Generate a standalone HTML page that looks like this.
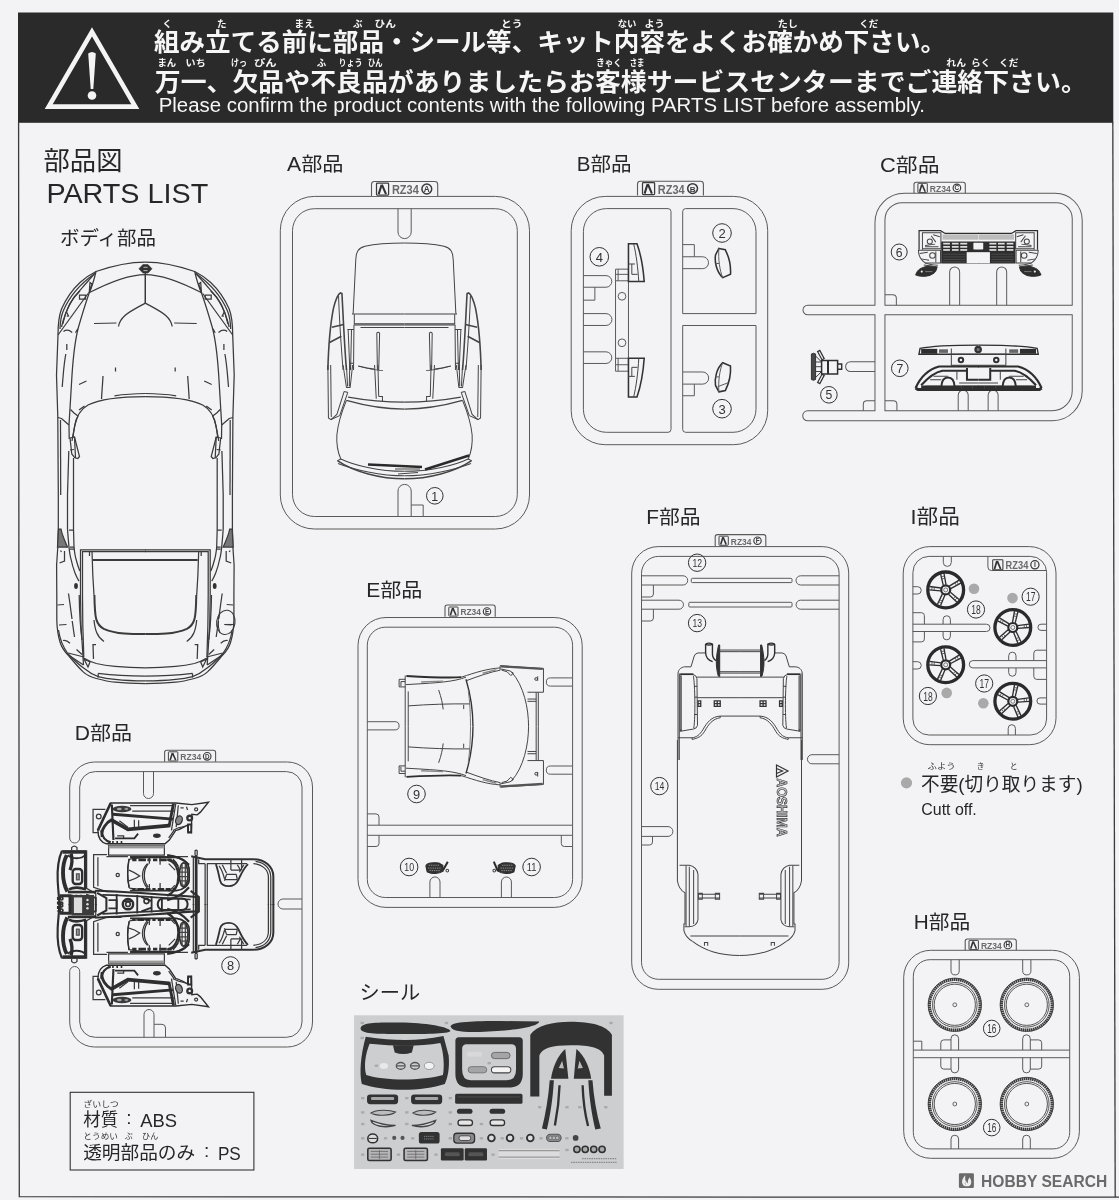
<!DOCTYPE html>
<html><head><meta charset="utf-8"><title>Parts List</title>
<style>
html,body{margin:0;padding:0;background:#f3f3f5;}
body{width:1119px;height:1200px;overflow:hidden;font-family:"Liberation Sans","Noto Sans CJK JP",sans-serif;}
svg{display:block;font-family:"Liberation Sans","Noto Sans CJK JP",sans-serif;}
</style></head><body>
<svg width="1119" height="1200" viewBox="0 0 1119 1200">
<defs><filter id="soft" x="0" y="0" width="1119" height="1200" filterUnits="userSpaceOnUse"><feGaussianBlur stdDeviation="0.42"/></filter></defs>
<rect width="1119" height="1200" fill="#f3f3f5"/>
<g filter="url(#soft)">
<rect x="18" y="12.5" width="1095.3" height="110.3" fill="#2b2b2b"/>
<path d="M18.6,122L19.3,1196.7L1119,1197.2" fill="none" stroke="#3a3a3a" stroke-width="1.3"/>
<path d="M1112.8,122L1115.2,1197" fill="none" stroke="#3a3a3a" stroke-width="1.3"/>
<path d="M92,31.8L135.3,106.6H48.7Z" fill="none" stroke="#f4f4f4" stroke-width="4.6" stroke-linejoin="miter"/>
<path d="M88.2,53.5Q92,50.5 95.8,53.5L93.3,89H90.7Z" fill="#f4f4f4"/><circle cx="92" cy="95.5" r="4.3" fill="#f4f4f4"/>
<text x="154" y="51" font-size="25" font-weight="bold" fill="#f6f6f6" textLength="792" lengthAdjust="spacingAndGlyphs">組み立てる前に部品・シール等、キット内容をよくお確かめ下さい。</text>
<text x="154.8" y="91" font-size="25" font-weight="bold" fill="#f6f6f6" textLength="932" lengthAdjust="spacingAndGlyphs">万一、欠品や不良品がありましたらお客様サービスセンターまでご連絡下さい。</text>
<g font-size="9.5" font-weight="bold" fill="#f6f6f6">
<text x="167.3" y="27.3" text-anchor="middle">く</text>
<text x="221.7" y="27.3" text-anchor="middle">た</text>
<text x="294.2" y="27.3" textLength="20" lengthAdjust="spacingAndGlyphs">まえ</text>
<text x="357.8" y="27.3" text-anchor="middle">ぶ</text>
<text x="374.6" y="27.3" textLength="21.4" lengthAdjust="spacingAndGlyphs">ひん</text>
<text x="501" y="27.3" textLength="21.5" lengthAdjust="spacingAndGlyphs">とう</text>
<text x="617.7" y="27.3" textLength="18.7" lengthAdjust="spacingAndGlyphs">ない</text>
<text x="644.5" y="27.3" textLength="20.1" lengthAdjust="spacingAndGlyphs">よう</text>
<text x="777.7" y="27.3" textLength="20.2" lengthAdjust="spacingAndGlyphs">たし</text>
<text x="859.3" y="27.3" textLength="19" lengthAdjust="spacingAndGlyphs">くだ</text>
<text x="157.4" y="66.3" textLength="18.8" lengthAdjust="spacingAndGlyphs">まん</text>
<text x="185.6" y="66.3" textLength="20.1" lengthAdjust="spacingAndGlyphs">いち</text>
<text x="231" y="66.3" textLength="16" lengthAdjust="spacingAndGlyphs">けっ</text>
<text x="254" y="66.3" textLength="22.7" lengthAdjust="spacingAndGlyphs">ぴん</text>
<text x="321.5" y="66.3" text-anchor="middle">ふ</text>
<text x="338.4" y="66.3" textLength="24.1" lengthAdjust="spacingAndGlyphs">りょう</text>
<text x="368" y="66.3" textLength="14.6" lengthAdjust="spacingAndGlyphs">ひん</text>
<text x="596.2" y="66.3" textLength="25.5" lengthAdjust="spacingAndGlyphs">きゃく</text>
<text x="629.7" y="66.3" textLength="14.8" lengthAdjust="spacingAndGlyphs">さま</text>
<text x="946.3" y="66.3" textLength="19.7" lengthAdjust="spacingAndGlyphs">れん</text>
<text x="971" y="66.3" textLength="19.5" lengthAdjust="spacingAndGlyphs">らく</text>
<text x="999" y="66.3" textLength="19.4" lengthAdjust="spacingAndGlyphs">くだ</text>
</g>
<text x="158.7" y="112.3" font-size="19.5" fill="#f6f6f6" textLength="766.3" lengthAdjust="spacingAndGlyphs">Please confirm the product contents with the following PARTS LIST before assembly.</text>
<text x="43.5" y="170.4" font-size="26" fill="#262626" textLength="79" lengthAdjust="spacingAndGlyphs">部品図</text>
<text x="46.4" y="202.8" font-size="27.6" fill="#262626" textLength="161.8" lengthAdjust="spacingAndGlyphs">PARTS LIST</text>
<text x="60" y="244.8" font-size="19.5" fill="#262626" textLength="96" lengthAdjust="spacingAndGlyphs">ボディ部品</text>
<g id="bodyL"><g transform="translate(40,255) scale(0.10000)" stroke-width="12.50" stroke="#3a3a3a" fill="none" ><path d="M180,800 C180,700 185,620 215,540 C260,440 330,340 400,275 C450,230 500,195 560,165 C700,115 880,70 1054,70"/><path d="M485,380 C600,320 850,195 1054,195"/><path d="M560,165 C540,250 515,330 490,385 C460,470 420,600 385,720 C350,850 330,1050 320,1200"/><path d="M552,180 C480,260 420,330 385,370 C330,430 280,520 255,590 C235,640 222,690 215,720"/><path d="M545,188 C430,270 300,400 232,560 C212,610 202,660 200,740"/><path d="M400,360 C330,420 260,530 228,690"/><path d="M480,385 L180,800"/><path d="M395,400 H455 V440 H395 Z"/><path d="M500,275 L520,290 L492,380 Z"/><path d="M265,570 L285,610 L268,612"/><path d="M180,800 C175,900 170,1050 165,1200"/><path d="M268,890 V950 M258,990 C245,1060 238,1130 232,1200"/><path d="M235,765 Q275,735 322,775"/><path d="M355,778 L378,738"/><path d="M1054,160 V481"/><path d="M1054,481 C1000,512 900,560 850,605 C810,640 790,680 785,715"/><path d="M540,685 L765,680"/><path d="M755,1125 V1165"/></g><g transform="translate(40,375) scale(0.10000)" stroke-width="12.50" stroke="#3a3a3a" fill="none" ><path d="M165,0 C170,150 175,300 178,420 L183,1200"/><path d="M205,450 L207,1200"/><path d="M232,0 L222,120"/><path d="M320,0 C310,150 300,350 290,500 L292,640"/><path d="M178,425 L215,435 L290,500"/><path d="M305,345 L340,380 L380,410"/><path d="M1054,215 C800,215 600,240 480,300 C400,345 360,420 345,520 C335,580 325,620 320,660"/><path d="M745,208 C850,192 950,186 1054,185"/><path d="M390,350 L445,310"/><path d="M380,410 C355,460 340,530 330,620"/><path d="M390,95 L465,60"/><path d="M630,10 L615,240"/><path d="M300,630 L345,620 L395,815 L378,835 L348,828 L318,790 Z"/><path d="M300,750 L340,745 M345,620 L355,830"/><path d="M288,760 L275,1200"/><path d="M335,830 V1200"/></g><g transform="translate(40,495) scale(0.10000)" stroke-width="12.50" stroke="#3a3a3a" fill="none" ><path d="M183,0 V340 L178,520 L166,700 L168,1000"/><path d="M185,340 L210,340 C220,400 250,460 275,520 L175,520 Z" fill="#777"/><path d="M275,0 V340 C280,420 285,470 290,520 C295,570 300,610 310,640 C320,690 335,740 350,780 C362,810 375,840 390,860"/><path d="M335,0 V340 L340,520 C345,570 350,610 360,640 C370,680 382,720 398,760"/><path d="M290,350 H335 M300,520 H342 M300,540 H345"/><path d="M405,1000 V548 H1057"/><path d="M425,1000 V565 H1057"/><path d="M520,560 L528,800 L540,1000"/><path d="M530,650 H1057" stroke-width="22"/><path d="M495,560 V610"/><path d="M245,560 V660 L195,680"/><path d="M205,555 L215,570"/><ellipse cx="360" cy="910" rx="19" ry="29" fill="#333" stroke="none"/><path d="M285,985 L300,1090"/></g><g transform="translate(40,595) scale(0.10000)" stroke-width="12.50" stroke="#3a3a3a" fill="none" ><path d="M168,0 L168,250 C170,350 185,420 200,470 C215,520 250,570 281,600 C330,660 380,720 432,769 C470,805 510,822 563,835 C620,850 680,865 750,872 C850,882 950,885 1054,885"/><path d="M185,350 C195,420 230,520 281,590 C330,640 390,700 450,741 C490,775 530,800 582,816 C640,832 700,840 750,844 C850,855 950,859 1054,859"/><path d="M432,628 C470,650 510,670 563,685 C620,698 690,708 750,713 C850,722 950,727 1054,728"/><path d="M582,784 C700,798 900,810 1054,810"/><path d="M582,784 V825"/><path d="M405,0 L410,300 L430,620 L435,700"/><path d="M425,0 L428,300 L438,620"/><path d="M392,0 C395,200 400,300 420,450"/><path d="M544,0 C546,120 550,200 563,244 C580,300 610,325 638,338 C700,365 780,380 844,385 C920,390 1000,390 1054,390" stroke-width="20"/><path d="M540,250 C550,350 570,420 640,465"/><path d="M300,90 L320,240 M322,260 L345,420"/><path d="M175,100 L240,95 M190,300 L265,295"/><path d="M230,455 Q262,445 300,482 M365,545 L420,595"/><path d="M560,495 L530,495 L535,640"/><path d="M440,640 L500,670 L480,720 Z"/><path d="M270,590 L435,700 M280,580 L440,620"/></g></g><use href="#bodyL" transform="translate(290.7,0) scale(-1,1)"/>
<g fill="none" stroke="#3a3a3a" stroke-width="1.1"><ellipse cx="225.8" cy="622.4" rx="9.2" ry="12.2" transform="rotate(8 225.8 622.4)"/><path d="M219.5,614Q216.5,623 220,633"/><path d="M225,624.5H233"/></g>
<path d="M138.9,268.8L142.9,264.6H148L152,268.8L148,273.1H142.9Z" fill="#333" stroke="#333" stroke-width="0.6"/><path d="M143.5,267.3H147.5M143.5,270.6H147.5" stroke="#bbb" stroke-width="1" fill="none"/>
<text x="287" y="171" font-size="19.7" fill="#262626" textLength="56.5" lengthAdjust="spacingAndGlyphs">A部品</text>
<path d="M314.3,196.4H495.5A34,34 0 0 1 529.5,230.4V495A34,34 0 0 1 495.5,529H314.3A34,34 0 0 1 280.3,495V230.4A34,34 0 0 1 314.3,196.4Z" fill="none" stroke="#5a5a5a" stroke-width="1"/><path d="M314.5,208.7H495.29999999999995A22,22 0 0 1 517.3,230.7V494.5A22,22 0 0 1 495.29999999999995,516.5H314.5A22,22 0 0 1 292.5,494.5V230.7A22,22 0 0 1 314.5,208.7Z" fill="none" stroke="#5a5a5a" stroke-width="1"/>
<path d="M371.5,196V184.38691729323307Q371.5,181.5 374.38691729323307,181.5H434.8130827067669Q437.7,181.5 437.7,184.38691729323307V196" fill="#f3f3f5" stroke="#5a5a5a" stroke-width="1.1"/><rect x="376.5" y="183.2" width="12.1" height="11.9" rx="0.8" fill="none" stroke="#3a3a3a" stroke-width="1.24"/><path d="M381.6,184.7L378.7,194.1M381.9,184.7L386.0,194.1" stroke="#333" stroke-width="2.09" fill="none"/><text x="391.9" y="194.1" font-size="12.7" font-weight="bold" fill="#6a6a6a" textLength="27" lengthAdjust="spacingAndGlyphs">RZ34</text><circle cx="426.8" cy="189.0" r="4.9" fill="none" stroke="#3a3a3a" stroke-width="1.49"/><text x="426.8" y="192.1" font-size="8.2" font-weight="bold" fill="#3a3a3a" text-anchor="middle">A</text>
<path d="M398,208.5V232A6.6,6.6 0 0 0 411.2,232V208.5" fill="none" stroke="#5a5a5a" stroke-width="1"/>
<path d="M398,516.5V491A6.6,6.6 0 0 1 411.2,491V516.5M411.2,505H423.2V516.5" fill="none" stroke="#5a5a5a" stroke-width="1"/>
<circle cx="434.8" cy="495.8" r="8.3" fill="none" stroke="#333" stroke-width="1"/>
<text x="434.8" y="500.5" font-size="12.4" fill="#333" text-anchor="middle">1</text>
<g id="AL"><g transform="translate(320,235) scale(0.11249)" stroke-width="8.89" stroke="#444" fill="none" ><path d="M751,72 C600,72 470,85 400,100 C340,115 320,150 318,220 L295,690 L290,702 H751"/><path d="M305,705 V790 M300,790 H751 M300,800 H751 M360,822 H751"/><path d="M510,1200 L505,872 Q517,858 530,872 L522,1200"/><path d="M70,1200 C75,1000 90,800 120,650 C140,570 160,525 180,515 L195,520 C205,700 215,950 235,1200" stroke-width="14"/><path d="M165,540 C170,700 185,950 205,1200"/><path d="M105,820 L210,795 M85,955 L190,900" stroke-width="14"/><path d="M243,840 H302 M250,840 L265,1200 M280,845 L272,1200 M302,800 L298,1200 M265,1140 H298"/><path d="M340,1165 C400,1180 440,1188 480,1192"/></g><g transform="translate(320,365) scale(0.11249)" stroke-width="8.89" stroke="#444" fill="none" ><path d="M70,0 L75,470 L98,485 L150,440 L215,235"/><path d="M95,0 L100,462"/><path d="M175,450 L245,250 M98,485 L175,450"/><path d="M205,0 L235,200 M235,0 L245,190 M265,0 L260,190 M290,0 L268,200 M215,235 L250,245 M232,200 H270"/><path d="M250,285 C400,312 600,330 751,330" stroke-width="12"/><path d="M235,315 C400,362 600,392 751,392" stroke-width="12"/><path d="M485,0 L500,300 M515,0 L522,280 M522,280 H555 V325"/><path d="M340,10 C420,30 500,45 560,50"/><path d="M235,315 C200,400 160,520 150,620 C145,700 160,780 185,835"/><path d="M185,835 C300,890 520,945 751,945"/><path d="M155,850 C300,950 540,1012 751,1012" stroke-width="13"/><path d="M160,875 C300,930 540,985 751,985"/><path d="M155,850 L185,835"/></g></g><use href="#AL" transform="translate(809,0) scale(-1,1)"/>
<path d="M368,464.5L422,467" stroke="#2a2a2a" stroke-width="2.4" fill="none"/><path d="M425,469.5L469,455.5" stroke="#2a2a2a" stroke-width="2.4" fill="none"/>
<path d="M395,469H420M398,474L418,472.5" stroke="#444" stroke-width="1" fill="none"/>
<text x="576.7" y="171" font-size="19.7" fill="#262626" textLength="54.8" lengthAdjust="spacingAndGlyphs">B部品</text>
<path d="M637.5,195.5V184.17383458646617Q637.5,181.3 640.3738345864662,181.3H700.5261654135338Q703.4,181.3 703.4,184.17383458646617V195.5" fill="#f3f3f5" stroke="#5a5a5a" stroke-width="1.1"/><rect x="642.5" y="182.7" width="12.1" height="11.9" rx="0.8" fill="none" stroke="#3a3a3a" stroke-width="1.24"/><path d="M647.5,184.2L644.6,193.6M647.9,184.2L651.9,193.6" stroke="#333" stroke-width="2.08" fill="none"/><text x="657.8" y="193.6" font-size="12.7" font-weight="bold" fill="#6a6a6a" textLength="26.9" lengthAdjust="spacingAndGlyphs">RZ34</text><circle cx="692.6" cy="188.6" r="4.9" fill="none" stroke="#3a3a3a" stroke-width="1.49"/><text x="692.6" y="191.6" font-size="8.1" font-weight="bold" fill="#3a3a3a" text-anchor="middle">B</text>
<g fill="none" stroke="#5a5a5a" stroke-width="1"><path d="M605.2,196.4H733.7A34,34 0 0 1 767.7,230.4V410.7A34,34 0 0 1 733.7,444.7H605.2A34,34 0 0 1 571.2,410.7V230.4A34,34 0 0 1 605.2,196.4Z"/><path d="M606.4,208.6 H668 Q671,208.6 671,211.6 V429.3 Q671,432.3 668,432.3 H606.4 A23,23 0 0 1 583.4,409.3 V231.6 A23,23 0 0 1 606.4,208.6 Z"/><path d="M685.7,208.6 H733 A23,23 0 0 1 756,231.6 V313.6 H682.7 V211.6 Q682.7,208.6 685.7,208.6 Z"/><path d="M682.7,325.5 H756 V409.3 A23,23 0 0 1 733,432.3 H685.7 Q682.7,432.3 682.7,429.3 Z"/></g>
<g transform="translate(560,140) scale(0.25833)" stroke-width="3.87" stroke="#5a5a5a" fill="none" ><path d="M90,525 H178 A22.5,22.5 0 0 1 178,570 H90 M90,672 H178 A23,23 0 0 1 178,718 H90 M90,820 H178 A22.5,22.5 0 0 1 178,865 H90"/><path d="M135,570 V620 H90"/><path d="M215,500 H265 V895 H215 Z"/><circle cx="240" cy="605" r="15"/><circle cx="240" cy="785" r="15"/><path d="M215,520 H265 M215,545 H265 M225,500 V545 M215,845 H265 M215,870 H265 M225,845 V895"/><path d="M265,402 H298 C312,440 322,495 326,548 H265 Z" stroke-width="6" stroke="#333"/><path d="M285,402 C295,440 302,500 305,548 M265,480 H290 M278,480 V520 H300" stroke="#444"/><path d="M265,995 H298 C312,955 322,900 326,845 H265 Z" stroke-width="6" stroke="#333"/><path d="M285,995 C295,955 302,900 305,845 M265,915 H290 M278,915 V880 H300" stroke="#444"/><path d="M475,452 H552 A23,23 0 0 1 552,498 H475 M475,405 H520 V452"/><path d="M615,420 L640,425 C655,455 662,490 660,520 L630,533 C605,510 598,470 602,445 Z" stroke-width="6" stroke="#333"/><path d="M615,420 C612,460 618,505 630,533 M602,478 H616"/><path d="M475,898 H552 A23,23 0 0 1 552,945 H475 M475,990 H520 V945"/><path d="M615,975 L640,970 C655,940 662,905 660,875 L630,862 C605,885 598,925 602,950 Z" stroke-width="6" stroke="#333"/><path d="M615,975 C612,935 618,890 630,862 M602,917 H616 M610,955 L650,940"/></g>
<circle cx="599.3" cy="256.8" r="9.3" fill="none" stroke="#333" stroke-width="1"/><text x="599.3" y="261.7" font-size="13" fill="#333" text-anchor="middle">4</text>
<circle cx="722" cy="233" r="9.3" fill="none" stroke="#333" stroke-width="1"/><text x="722" y="237.9" font-size="13" fill="#333" text-anchor="middle">2</text>
<circle cx="722" cy="408.7" r="9.3" fill="none" stroke="#333" stroke-width="1"/><text x="722" y="413.5" font-size="13" fill="#333" text-anchor="middle">3</text>
<text x="880" y="172" font-size="19.7" fill="#262626" textLength="59.5" lengthAdjust="spacingAndGlyphs">C部品</text>
<path d="M914,193.3V184.43714285714285Q914,182.2 916.2371428571429,182.2H963.0628571428571Q965.3,182.2 965.3,184.43714285714285V193.3" fill="#f3f3f5" stroke="#5a5a5a" stroke-width="1.1"/><rect x="917.9" y="183.3" width="9.4" height="9.3" rx="0.6" fill="none" stroke="#3a3a3a" stroke-width="0.96"/><path d="M921.8,184.5L919.6,191.8M922.1,184.5L925.2,191.8" stroke="#333" stroke-width="1.62" fill="none"/><text x="929.8" y="191.8" font-size="9.8" font-weight="bold" fill="#6a6a6a" textLength="20.9" lengthAdjust="spacingAndGlyphs">RZ34</text><circle cx="956.9" cy="187.9" r="3.8" fill="none" stroke="#3a3a3a" stroke-width="1.16"/><text x="956.9" y="190.3" font-size="6.4" font-weight="bold" fill="#3a3a3a" text-anchor="middle">C</text>
<g transform="translate(800,140) scale(0.28506)" stroke-width="3.51" stroke="#5a5a5a" fill="none" ><path d="M263,580 V290 A103,103 0 0 1 366,187 H895 A95,95 0 0 1 990,282 V880 A105,105 0 0 1 885,985 H27 A17.5,17.5 0 0 1 27,950 H263 V613 H27 A16.5,16.5 0 0 1 27,580 Z"/><path d="M298,580 V280 A60,60 0 0 1 358,220 H900 A55,55 0 0 1 955,275 V580 Z"/><path d="M298,613 H955 V880 A70,70 0 0 1 885,950 H298 Z"/><path d="M298,543 H325 Q338,543 338,556 V580"/><path d="M525,580 V463 A17.5,17.5 0 0 1 560,463 V580 M690,580 V463 A17.5,17.5 0 0 1 725,463 V580"/><path d="M555,950 V895 A17.5,17.5 0 0 1 590,895 V950 M660,950 V895 A17.5,17.5 0 0 1 695,895 V950"/><path d="M222,950 V928 Q222,915 235,915 H263 M298,915 H327 Q340,915 340,928 V950"/><path d="M263,778 H177 A17,17 0 0 0 177,812 H263"/></g>
<circle cx="899.2" cy="252" r="8" fill="none" stroke="#333" stroke-width="1"/><text x="899.2" y="256.5" font-size="12.2" fill="#333" text-anchor="middle">6</text>
<circle cx="899.8" cy="368.3" r="8.3" fill="none" stroke="#333" stroke-width="1"/><text x="899.8" y="372.8" font-size="12.2" fill="#333" text-anchor="middle">7</text>
<circle cx="828.9" cy="394.8" r="8.3" fill="none" stroke="#333" stroke-width="1"/><text x="828.9" y="399.3" font-size="12.2" fill="#333" text-anchor="middle">5</text>
<g id="p6L"><g transform="translate(905,220) scale(0.13405)" stroke-width="7.46" stroke="#444" fill="none" ><path d="M105,222 V80 H265 L300,100 H549" stroke-width="9" stroke="#2e2e2e"/><path d="M130,95 H268 V215 H130 Z M130,95 V222"/><circle cx="185" cy="160" r="19"/><path d="M150,190 L225,180 M195,118 L230,165 M210,110 L260,125 M150,200 H250"/><path d="M280,112 H545 M280,122 H545 M280,132 H545 M280,142 H545" stroke="#aaa"/><path d="M270,160 H549 V325 H270 Z" fill="#2e2e2e" stroke="none"/><rect x="285" y="170" width="50" height="13" fill="#ddd" stroke="none"/><rect x="285" y="194" width="50" height="13" fill="#ddd" stroke="none"/><rect x="285" y="217" width="50" height="13" fill="#ddd" stroke="none"/><rect x="350" y="170" width="50" height="13" fill="#ddd" stroke="none"/><rect x="350" y="194" width="50" height="13" fill="#ddd" stroke="none"/><rect x="350" y="217" width="50" height="13" fill="#ddd" stroke="none"/><rect x="412" y="170" width="52" height="13" fill="#ddd" stroke="none"/><rect x="412" y="194" width="52" height="13" fill="#ddd" stroke="none"/><rect x="412" y="217" width="52" height="13" fill="#ddd" stroke="none"/><path d="M550,170 H516 Q510,170 510,176 V214 Q510,220 516,220 H550 Z" fill="#f3f3f5" stroke="none"/><rect x="460" y="240" width="92" height="82" fill="#f3f3f5" stroke="none"/><path d="M285,255 H450 M285,275 H450 M285,295 H450 M285,312 H450" stroke="#555" stroke-width="5"/><path d="M100,225 H265 V320 H150 C120,300 100,270 100,225 Z"/><circle cx="205" cy="265" r="21"/><path d="M110,250 L170,240 M120,290 L180,300 M230,235 V315"/><path d="M80,408 C90,372 130,347 180,343 L240,350 C235,388 200,416 150,420 C120,420 95,416 80,408 Z" fill="#2e2e2e" stroke="#2e2e2e"/><circle cx="125" cy="385" r="8" fill="#eee" stroke="none"/><path d="M150,385 H205" stroke="#999" stroke-width="5"/><path d="M150,320 C170,330 210,335 245,338 M140,335 L235,348"/></g></g><use href="#p6L" transform="translate(1956.6,0) scale(-1,1)"/>
<g id="p7L"><g transform="translate(805,335) scale(0.22341)" stroke-width="4.48" stroke="#444" fill="none" ><path d="M777,45 C650,45 560,50 515,60 L510,86 H777" stroke="#2e2e2e" stroke-width="6"/><path d="M520,62 H592 V84 H520 Z" fill="#2e2e2e" stroke="none"/><path d="M600,64 H640 V80 H600 Z" fill="#666" stroke="none"/><path d="M655,60 V135 H777 M655,86 H777"/><circle cx="698" cy="112" r="10" stroke-width="9" stroke="#333"/><path d="M495,237 C520,182 560,152 600,141 H779" stroke="#2e2e2e" stroke-width="10"/><path d="M495,237 L505,244 H779 M520,232 H779" stroke="#2e2e2e" stroke-width="13"/><path d="M520,225 C560,180 590,165 615,160 H725 M725,148 V200 H777 M540,232 H610 C612,200 625,190 640,190 C655,190 668,200 670,232 H777" stroke="#2e2e2e" stroke-width="9"/><path d="M560,200 H610 M575,185 H640 M680,160 V200 M690,215 H777 M700,228 V240 M750,228 V240" stroke="#444"/></g></g><use href="#p7L" transform="translate(1957.2,0) scale(-1,1)"/>
<g transform="translate(805,335) scale(0.22341)" stroke-width="4.48" stroke="#3a3a3a" fill="none" ><circle cx="775" cy="65" r="17" fill="#333" stroke="none"/><circle cx="775" cy="65" r="7" fill="#777" stroke="none"/></g>
<g fill="none" stroke="#333" stroke-width="1"><path d="M811.4,354 Q813.5,352.5 815.6,354 V379.5 Q813.5,381 811.4,379.5 Z" fill="#4a4a4a" stroke="#333"/><path d="M815.6,356 L821.6,362 M815.6,377.5 L821.6,371.5" stroke="#333"/><path d="M815.6,362 H821.6 M815.6,366.7 H821.6 M815.6,371.5 H821.6" stroke="#444"/><path d="M817.6,351.6 L819.8,350.4 L824.2,358.6 L822,359.8 Z M817.6,382.4 L819.8,383.6 L824.2,375.4 L822,374.2 Z" stroke="#333" stroke-width="1.2"/><path d="M821.6,360.6 H837.6 V374 H821.6 Z" stroke="#2e2e2e" stroke-width="1.5"/><path d="M828,360.6 V374" stroke="#2e2e2e" stroke-width="2"/><path d="M837.6,364 H841.7 V369.2 H837.6" stroke="#2e2e2e" stroke-width="1.4"/></g>
<text x="74.7" y="739.5" font-size="19.7" fill="#262626" textLength="57.3" lengthAdjust="spacingAndGlyphs">D部品</text>
<path d="M164.6,761.7V752.5240601503759Q164.6,750.3 166.82406015037594,750.3H213.37593984962405Q215.6,750.3 215.6,752.5240601503759V761.7" fill="#f3f3f5" stroke="#5a5a5a" stroke-width="1.1"/><rect x="168.4" y="751.8" width="9.4" height="9.2" rx="0.6" fill="none" stroke="#3a3a3a" stroke-width="0.96"/><path d="M172.4,753.0L170.1,760.2M172.6,753.0L175.7,760.2" stroke="#333" stroke-width="1.61" fill="none"/><text x="180.3" y="760.2" font-size="9.8" font-weight="bold" fill="#6a6a6a" textLength="20.9" lengthAdjust="spacingAndGlyphs">RZ34</text><circle cx="207.2" cy="756.3" r="3.8" fill="none" stroke="#3a3a3a" stroke-width="1.15"/><text x="207.2" y="758.7" font-size="6.3" font-weight="bold" fill="#3a3a3a" text-anchor="middle">D</text>
<g fill="none" stroke="#5a5a5a" stroke-width="1"><path d="M69.7,836 V787 A25,25 0 0 1 94.7,762 H287.5 A25,25 0 0 1 312.5,787 V1022 A25,25 0 0 1 287.5,1047 H94.7 A25,25 0 0 1 69.7,1022 V971.5 A5,5 0 0 1 79.7,971.5 V1022 A15.5,15.5 0 0 0 95.2,1037.3 H286.5 A15.5,15.5 0 0 0 302,1022 V787 A15.5,15.5 0 0 0 286.5,771.6 H95.2 A15.5,15.5 0 0 0 79.7,787 V838 A5,5 0 0 1 69.7,838 Z"/><path d="M143.5,771.6 V793.5 A5,5 0 0 0 153.5,793.5 V771.6"/><path d="M144,1037.3 V1014.5 A5,5 0 0 1 154,1014.5 V1037.3 M154,1024.3 H162 Q165.5,1024.3 165.5,1028 V1037.3"/><path d="M302,899 H283 A5,5 0 0 0 283,909 H302"/></g>
<circle cx="230.5" cy="965.5" r="8.8" fill="none" stroke="#333" stroke-width="1"/><text x="230.5" y="970.2" font-size="12.8" fill="#333" text-anchor="middle">8</text>
<g id="DT"><g transform="translate(55,795) scale(0.10724)" stroke-width="11.66" stroke="#3a3a3a" fill="none" ><path d="M400,330 L520,75 H1126 L1276,90 L1431,68 L1356,160 L1326,185 L1276,180 L1271,350 L1241,345 L1236,280 C1200,300 1150,330 1126,330 L1066,420 L1026,455 H480 C430,440 400,400 400,330 Z" stroke="#2d2d2d" stroke-width="13"/><path d="M470,135 H355 V350 H410"/><circle cx="408" cy="200" r="22"/><path d="M540,180 L1100,225" stroke="#2d2d2d" stroke-width="27"/><path d="M520,230 L680,320 L1060,285" stroke="#2d2d2d" stroke-width="34"/><path d="M440,390 C425,320 480,255 530,230" stroke="#2d2d2d" stroke-width="27"/><path d="M430,330 C440,400 470,430 520,440" stroke="#2d2d2d" stroke-width="20"/><ellipse cx="625" cy="130" rx="88" ry="30" fill="#3a3a3a" stroke="none"/><ellipse cx="600" cy="130" rx="22" ry="12" fill="#aaa" stroke="none"/><ellipse cx="665" cy="130" rx="18" ry="10" fill="#999" stroke="none"/><ellipse cx="950" cy="380" rx="36" ry="20" fill="#333" stroke="none"/><path d="M530,90 L545,420" stroke="#2d2d2d" stroke-width="20"/><path d="M520,75 L400,330" stroke="#2d2d2d" stroke-width="24"/><path d="M700,100 H1100 M720,150 H1110 M740,230 V300 M780,235 V300 M600,240 L680,300 M580,380 H640 V400"/><path d="M560,405 H740 L775,360" stroke="#2d2d2d" stroke-width="17"/><path d="M500,440 V455 M540,430 V455 M580,430 V455 M620,430 V455" stroke="#2d2d2d" stroke-width="15"/><path d="M1105,80 L1062,300" stroke="#2d2d2d" stroke-width="27"/><path d="M1126,80 L1086,330 M1150,95 L1130,300"/><path d="M500,470 H1020 V560 H500 Z"/><rect x="500" y="470" width="520" height="28" fill="#999" stroke="none"/><circle cx="1316" cy="135" r="14"/><circle cx="1256" cy="215" r="22" stroke-width="22" stroke="#333"/><path d="M1241,275 H1271 V350 H1241 Z" stroke="#2d2d2d" stroke-width="17"/><ellipse cx="1156" cy="235" rx="30" ry="42" fill="#888" stroke="#333" transform="rotate(20 1156 235)"/><path d="M1170,120 H1200 M1226,110 L1236,140 M1100,330 C1120,320 1150,300 1180,300 L1220,290 M1060,400 L1110,330"/><path d="M65,520 H295 V870 L380,920 V1026"/><path d="M65,520 C30,600 20,700 25,800 C30,900 40,960 40,1026" stroke="#2d2d2d" stroke-width="20"/><path d="M110,560 C62,650 62,800 115,900" stroke="#2d2d2d" stroke-width="36"/><path d="M150,545 C165,600 160,650 140,700" stroke="#2d2d2d" stroke-width="31"/><path d="M282,540 V870" stroke="#2d2d2d" stroke-width="24"/><path d="M70,532 H290" stroke="#2d2d2d" stroke-width="31"/><path d="M120,560 C150,600 250,600 280,560" stroke="#2d2d2d" stroke-width="17"/><rect x="165" y="690" width="88" height="140" rx="28" stroke-width="22" stroke="#2d2d2d"/><rect x="200" y="735" width="26" height="56" fill="#999" stroke="#555"/><path d="M155,520 V490 Q180,462 205,490 V520"/><path d="M130,880 C170,860 230,860 290,880" stroke="#2d2d2d" stroke-width="24"/><path d="M120,905 H385" stroke="#2d2d2d" stroke-width="24"/><path d="M45,940 H140 V1026" stroke="#2d2d2d" stroke-width="27"/><path d="M160,930 V1026 M200,930 V1026 M240,930 V1026" stroke="#2d2d2d" stroke-width="20"/><path d="M290,930 L380,960 V1026" stroke="#2d2d2d" stroke-width="17"/><circle cx="60" cy="965" r="14" fill="#eee" stroke="#333" stroke-width="16"/><circle cx="60" cy="1010" r="12" fill="#eee" stroke="#333" stroke-width="16"/><path d="M480,560 V555 H360 V860 L480,900 H620 M400,580 V850 M480,575 H680"/><circle cx="585" cy="745" r="15"/><path d="M690,600 C672,700 672,780 692,862"/><path d="M690,600 C740,590 800,585 880,580 M692,868 C760,880 820,880 880,880"/><path d="M690,700 C740,720 770,740 790,755 C760,775 730,790 690,800"/><path d="M862,640 C800,700 800,800 862,870"/><path d="M720,605 H1110" stroke="#2d2d2d" stroke-width="24" stroke-dasharray="40 18 70 14 30 22"/><path d="M720,880 H1110" stroke="#2d2d2d" stroke-width="24" stroke-dasharray="30 20 60 14 46 18"/><path d="M700,575 H1240 M880,585 V640 M980,585 V650 M880,870 V830 M980,870 V820"/><path d="M1046,600 C1126,620 1150,700 1150,760 C1150,820 1126,900 1046,940" stroke="#2d2d2d" stroke-width="20"/><ellipse cx="1200" cy="745" rx="40" ry="112" stroke="#333" stroke-width="16"/><path d="M1165,680 H1235 M1162,720 H1238 M1160,760 H1240 M1162,800 H1238 M1170,840 H1230 M1185,650 V850 M1215,650 V850" stroke="#444"/><path d="M1046,560 C1130,570 1200,600 1250,650 M1046,980 C1130,960 1200,920 1250,860" stroke="#2d2d2d" stroke-width="20"/><path d="M1060,640 L1120,700 M1060,900 L1120,840 M1080,600 L1150,660"/><path d="M700,582 H1131 C1200,590 1251,640 1251,700 V790 C1251,840 1200,884 1131,892 H700" stroke="#2d2d2d" stroke-width="16"/><path d="M690,596 C672,700 672,780 692,866" stroke="#2d2d2d" stroke-width="13"/><path d="M870,640 C820,700 820,800 870,860" stroke="#333" stroke-width="12"/><path d="M1100,600 C1150,640 1160,700 1160,745 C1160,800 1150,850 1100,880" stroke="#2d2d2d" stroke-width="14"/><path d="M1316,560 V1026" stroke="#2d2d2d" stroke-width="26"/><path d="M1290,575 V1026 M1400,640 V1026 M1420,640 V1026"/><path d="M1306,560 V520 Q1316,508 1326,520 V560"/><path d="M1270,572 L1400,600 H1850 C1960,600 2036,670 2036,760 V1026" stroke="#333" stroke-width="19"/><path d="M1416,640 H1790 M1850,640 C1940,650 1990,700 1990,770 V1026 M1870,620 C1970,632 2012,700 2012,770 V1026 M1340,600 V640 H1400"/><path d="M1500,645 C1520,700 1530,760 1540,800 C1550,840 1580,850 1620,850 C1670,850 1690,830 1710,790 C1740,730 1760,680 1800,645" stroke="#333" stroke-width="17"/><path d="M1530,660 C1560,700 1570,740 1580,780 M1560,650 L1600,730 M1600,740 H1690 M1580,790 H1700 M1600,740 L1580,800 M1690,740 L1700,790 M1640,600 V700 M1740,600 V700 M1640,700 H1740 M1700,650 L1730,700 M1760,650 L1720,720"/></g></g><use href="#DT" transform="translate(0,1809) scale(1,-1)"/>
<g transform="translate(55,860) scale(0.20555)" stroke-width="4.87" stroke="#444" fill="none" ><path d="M195,150 C300,150 450,165 690,180 V250 C450,265 300,280 195,280" stroke="#2d2d2d" stroke-width="10"/><path d="M230,170 C330,172 450,180 660,192 M230,262 C330,258 450,250 660,240" stroke="#333" stroke-width="8"/><circle cx="355" cy="215" r="25" stroke="#2d2d2d" stroke-width="12"/><circle cx="355" cy="215" r="11" stroke="#333" stroke-width="8"/><circle cx="445" cy="200" r="12" stroke="#333" stroke-width="8"/><rect x="500" y="187" width="145" height="56" rx="26" stroke="#2d2d2d" stroke-width="10"/><path d="M260,195 H300 V235 H260 M400,170 V260 M470,175 V255" stroke="#333" stroke-width="9"/><rect x="80" y="170" width="110" height="100" fill="#3a3a3a" stroke="none"/><rect x="92" y="182" width="40" height="76" fill="#ddd" stroke="none"/><circle cx="158" cy="195" r="6" fill="#ddd" stroke="none"/><circle cx="158" cy="215" r="6" fill="#ddd" stroke="none"/><circle cx="158" cy="235" r="6" fill="#ddd" stroke="none"/><path d="M20,180 V250" stroke="#2d2d2d" stroke-width="21" stroke-dasharray="14 8"/><path d="M300,165 V265 M330,200 H380 M420,180 L470,200 M420,250 L470,232 M520,180 V250 M600,187 V243" stroke="#2d2d2d" stroke-width="9"/><path d="M205,160 L250,185 V245 L205,270" stroke="#2d2d2d" stroke-width="10"/><path d="M660,150 L700,180 V250 L660,280" stroke="#2d2d2d" stroke-width="10"/></g>
<text x="366.2" y="596.5" font-size="19.7" fill="#262626" textLength="56.3" lengthAdjust="spacingAndGlyphs">E部品</text>
<path d="M445,616.7V607.1891729323308Q445,605 447.18917293233085,605H493.01082706766914Q495.2,605 495.2,607.1891729323308V616.7" fill="#f3f3f5" stroke="#5a5a5a" stroke-width="1.1"/><rect x="448.8" y="607.0" width="9.2" height="9.1" rx="0.6" fill="none" stroke="#3a3a3a" stroke-width="0.94"/><path d="M452.6,608.1L450.4,615.3M452.9,608.1L456.0,615.3" stroke="#333" stroke-width="1.59" fill="none"/><text x="460.4" y="615.3" font-size="9.7" font-weight="bold" fill="#6a6a6a" textLength="20.5" lengthAdjust="spacingAndGlyphs">RZ34</text><circle cx="487.0" cy="611.4" r="3.7" fill="none" stroke="#3a3a3a" stroke-width="1.13"/><text x="487" y="613.8" font-size="6.3" font-weight="bold" fill="#3a3a3a" text-anchor="middle">E</text>
<g fill="none" stroke="#5a5a5a" stroke-width="1"><path d="M386,617.5H554.2A28,28 0 0 1 582.2,645.5V879.4A28,28 0 0 1 554.2,907.4H386A28,28 0 0 1 358,879.4V645.5A28,28 0 0 1 386,617.5Z"/><path d="M385.3,627.2H554.6A18,18 0 0 1 572.6,645.2V879.5A18,18 0 0 1 554.6,897.5H385.3A18,18 0 0 1 367.3,879.5V645.2A18,18 0 0 1 385.3,627.2Z"/><path d="M367.1,825.2 H572.2 M367.1,835.3 H572.2"/><path d="M367.1,813.9 H376 Q379,813.9 379,817 V825.2 M367.1,846.5 H376 Q379,846.5 379,843.5 V835.3 M572.2,846.5 H564.3 Q561.3,846.5 561.3,843.5 V835.3"/><path d="M367.1,721.7 H395 A4.1,4.1 0 0 1 395,729.9 H367.1"/><path d="M572.2,677.9 H550.4 A4.1,4.1 0 0 0 550.4,686.1 H572.2 M572.2,766 H550.4 A4.1,4.1 0 0 0 550.4,774.2 H572.2"/><path d="M429.9,897.5 V882 A5,5 0 0 1 440,882 V897.5 M501.4,897.5 V882 A5,5 0 0 1 511.4,882 V897.5"/></g>
<circle cx="416.5" cy="794" r="8.8" fill="none" stroke="#333" stroke-width="1"/><text x="416.5" y="798.7" font-size="12.8" fill="#333" text-anchor="middle">9</text>
<circle cx="409.1" cy="867" r="8.8" fill="none" stroke="#333" stroke-width="1"/><text x="404.3" y="871.3" font-size="11.5" fill="#333" textLength="9.8" lengthAdjust="spacingAndGlyphs">10</text>
<circle cx="531.6" cy="867" r="8.8" fill="none" stroke="#333" stroke-width="1"/><text x="526.8" y="871.3" font-size="11.5" fill="#333" textLength="9.8" lengthAdjust="spacingAndGlyphs">11</text>
<g id="p9T"><g transform="translate(390,655) scale(0.15193)" stroke-width="6.58" stroke="#444" fill="none" ><path d="M100,135 V470 M120,240 V470"/><path d="M108,138 C250,146 380,152 470,146" stroke="#2e2e2e" stroke-width="12"/><path d="M105,195 C250,186 380,182 470,156 L500,146"/><path d="M470,146 C560,116 640,90 725,85 M500,170 C580,140 660,112 725,100"/><path d="M100,160 H60 V210 H100 M72,175 H100 M72,175 V205"/><path d="M500,160 C530,260 546,370 546,470" stroke="#333" stroke-width="9"/><path d="M515,230 C525,300 530,400 530,470" stroke="#777"/><path d="M800,112 C880,200 912,350 912,470"/><path d="M725,70 L1010,88 V245 H905 M725,70 V100" stroke="#444"/><path d="M730,75 L1005,92" stroke="#555" stroke-width="14"/><path d="M962,245 V470 M976,245 V470 M905,290 H962 M905,305 H962"/><path d="M120,335 C250,325 400,320 522,322 M320,230 C338,280 346,320 350,358 M485,328 V356"/><path d="M205,178 L350,172 M610,120 L700,96" stroke="#888" stroke-width="9"/><path d="M730,92 L790,105 L812,120 L795,135 L770,110 L735,100" stroke="#444"/><circle cx="962" cy="158" r="9"/><path d="M972,140 V170"/></g></g><use href="#p9T" transform="translate(0,1452.8) scale(1,-1)"/>
<g transform="translate(345,800) scale(0.22341)" stroke-width="4.48" stroke="#444" fill="none" ><path d="M362,295 C365,282 395,278 420,282 L438,292 L440,318 C420,332 385,332 368,322 Z" fill="#333" stroke="#2a2a2a"/><path d="M375,292 H425 M372,305 H430 M378,316 H425" stroke="#999" stroke-width="4" stroke-dasharray="6 4"/><path d="M440,312 L460,276" stroke="#2a2a2a" stroke-width="9"/><circle cx="458" cy="316" r="6"/><path d="M762,295 C759,282 729,278 704,282 L686,292 L684,318 C704,332 739,332 756,322 Z" fill="#333" stroke="#2a2a2a"/><path d="M749,292 H699 M752,305 H694 M746,316 H699" stroke="#999" stroke-width="4" stroke-dasharray="6 4"/><path d="M684,318 L666,276" stroke="#2a2a2a" stroke-width="9"/><circle cx="668" cy="316" r="6"/></g>
<text x="646.2" y="523.5" font-size="19.7" fill="#262626" textLength="54.3" lengthAdjust="spacingAndGlyphs">F部品</text>
<path d="M715.2,546V536.8066165413534Q715.2,534.6 717.4066165413534,534.6H763.5933834586466Q765.8,534.6 765.8,536.8066165413534V546" fill="#f3f3f5" stroke="#5a5a5a" stroke-width="1.1"/><rect x="719.0" y="536.2" width="9.3" height="9.1" rx="0.6" fill="none" stroke="#3a3a3a" stroke-width="0.95"/><path d="M722.9,537.3L720.7,544.6M723.2,537.3L726.2,544.6" stroke="#333" stroke-width="1.60" fill="none"/><text x="730.8" y="544.6" font-size="9.8" font-weight="bold" fill="#6a6a6a" textLength="20.6" lengthAdjust="spacingAndGlyphs">RZ34</text><circle cx="757.5" cy="540.7" r="3.7" fill="none" stroke="#3a3a3a" stroke-width="1.14"/><text x="757.6" y="543" font-size="6.3" font-weight="bold" fill="#3a3a3a" text-anchor="middle">F</text>
<g fill="none" stroke="#5a5a5a" stroke-width="1"><path d="M658.2,546.6H822.2A26.5,26.5 0 0 1 848.7,573.1V962.8A26.5,26.5 0 0 1 822.2,989.3H658.2A26.5,26.5 0 0 1 631.7,962.8V573.1A26.5,26.5 0 0 1 658.2,546.6Z"/><path d="M658.5,556.4H822.1A17,17 0 0 1 839.1,573.4V962.3A17,17 0 0 1 822.1,979.3H658.5A17,17 0 0 1 641.5,962.3V573.4A17,17 0 0 1 658.5,556.4Z"/><path d="M641.6,575.8 H683.1 A4.6,4.6 0 0 1 683.1,585 H641.6 M641.6,600.2 H679 A4.5,4.5 0 0 1 679,609.2 H641.6"/><path d="M653.4,585 V594 Q653.4,597 650.4,597 H641.6 M653.4,609.2 V618 Q653.4,621 650.4,621 H641.6"/><path d="M839.1,575.8 H800.6 A4.6,4.6 0 0 0 800.6,585 H839.1 M839.1,600.2 H800.6 A4.5,4.5 0 0 0 800.6,609.2 H839.1"/><path d="M692.3,578.3 H791 Q792,578.3 792,579.3 V581.6 Q792,582.6 791,582.6 H692.3 Q691.3,582.6 691.3,581.6 V579.3 Q691.3,578.3 692.3,578.3 Z"/><path d="M689.8,602.3 H791 Q792,602.3 792,603.3 V606 Q792,607 791,607 H689.8 Q688.8,607 688.8,606 V603.3 Q688.8,602.3 689.8,602.3 Z"/><path d="M641.6,826.6 H668 A4.9,4.9 0 0 1 668,836.4 H641.6 M652.5,836.4 V842 Q652.5,845 649.5,845 H641.6"/><path d="M839.1,754.7 H812 A4.55,4.55 0 0 0 812,763.8 H839.1"/></g>
<circle cx="697.1" cy="562.7" r="8.7" fill="none" stroke="#333" stroke-width="1"/><text x="692.4" y="567" font-size="11.5" fill="#333" textLength="9.6" lengthAdjust="spacingAndGlyphs">12</text>
<circle cx="697.1" cy="623.1" r="8.7" fill="none" stroke="#333" stroke-width="1"/><text x="692.4" y="627.4" font-size="11.5" fill="#333" textLength="9.6" lengthAdjust="spacingAndGlyphs">13</text>
<circle cx="659.4" cy="786.1" r="8.7" fill="none" stroke="#333" stroke-width="1"/><text x="654.7" y="790.4" font-size="11.5" fill="#333" textLength="9.7" lengthAdjust="spacingAndGlyphs">14</text>
<g id="FT"><g transform="translate(665,630) scale(0.10831)" stroke-width="9.23" stroke="#444" fill="none" ><path d="M120,1200 V400 C125,360 150,345 180,340 H240 L270,240 Q280,215 305,212 H380"/><path d="M132,400 V1200"/><path d="M375,130 Q405,112 438,130 V220 Q438,262 470,282 M375,130 V215 Q380,275 440,292 M375,130 Q405,146 438,130" stroke="#2e2e2e" stroke-width="13"/><path d="M495,138 C470,250 465,330 492,425 L505,430 V138 Z" fill="#333" stroke="#2e2e2e"/><path d="M505,185 H694 M505,200 H694 M505,385 H694 M505,398 H694 M290,435 H694"/><path d="M140,408 H262" stroke="#2e2e2e" stroke-width="16"/><path d="M140,410 V935 L260,915 Q295,910 300,880 L295,450 Q290,415 255,410"/><path d="M262,425 C277,500 282,800 266,905 M150,935 V420 M268,520 H298 M272,620 H300 M270,780 H298 M140,935 L150,915"/><path d="M300,625 H694"/><path d="M305,655 H330 V705 H305 Z M305,680 H330 M455,655 H510 V705 H455 Z M455,680 H510 M482,655 V705" stroke="#333" stroke-width="12"/><path d="M694,795 H510 C430,800 390,850 350,920 C320,970 290,990 250,995 H120"/><path d="M510,810 C440,820 402,870 366,935 C336,985 300,1000 250,1010 M510,795 V810 M250,995 V1010"/></g></g><use href="#FT" transform="translate(1480.3,0) scale(-1,1)"/>
<g id="FB"><g transform="translate(620,740) scale(0.21659)" stroke-width="4.62" stroke="#444" fill="none" ><path d="M265,0 V650 C270,680 285,698 300,705 V850 H295 V880 C300,900 315,918 335,930"/><path d="M275,578 H320 Q355,585 360,620 V830 Q355,860 320,862 H298"/><path d="M305,580 V860 M320,585 V860 M340,600 V850"/><path d="M360,712 H460 M360,730 H460 M362,708 H380 V735 H362 Z M440,708 H460 V735 H440 Z"/><path d="M325,905 H551.5 M335,930 C400,980 480,995 551.5,995"/><path d="M390,950 V935 H405 V950"/></g></g><use href="#FB" transform="translate(1478.9,0) scale(-1,1)"/>
<g transform="translate(789,764) rotate(90)"><rect x="0" y="0" width="73" height="13.5" fill="none" stroke="none"/><path d="M1,12.5L7,1L13,12.5Z M4.5,12.5L7,6.5L9.5,12.5" fill="none" stroke="#333" stroke-width="1.2"/><text x="14.3" y="12.3" font-size="14.4" font-weight="bold" fill="#cfcfd2" stroke="#333" stroke-width="0.7" textLength="58.4" lengthAdjust="spacingAndGlyphs">AOSHIMA</text></g>
<text x="910.5" y="524" font-size="20.5" fill="#262626" textLength="49.3" lengthAdjust="spacingAndGlyphs">I部品</text>
<g fill="none" stroke="#5a5a5a" stroke-width="1"><path d="M929.7,546.6H1029.5A26.5,26.5 0 0 1 1056,573.1V718.2A26.5,26.5 0 0 1 1029.5,744.7H929.7A26.5,26.5 0 0 1 903.2,718.2V573.1A26.5,26.5 0 0 1 929.7,546.6Z"/><path d="M928.9,556.4H1030.6A16,16 0 0 1 1046.6,572.4V719A16,16 0 0 1 1030.6,735H928.9A16,16 0 0 1 912.9,719V572.4A16,16 0 0 1 928.9,556.4Z"/><path d="M987.9,556.4 V567 Q987.9,570.5 991.4,570.5 H1046.6"/><path d="M912.7,624.2 H986.4 A3.65,3.65 0 0 1 986.4,631.5 H912.7"/><path d="M1046.6,660.6 H972.9 A3.65,3.65 0 0 0 972.9,667.9 H1046.6"/><path d="M943.3,556.4 V562.4 A4,4 0 0 0 951.3,562.4 V556.4"/><path d="M912.7,586.7 H917.6 A3.65,3.65 0 0 1 917.6,594 H912.7 M912.7,661.7 H917.6 A3.65,3.65 0 0 1 917.6,669 H912.7"/><path d="M912.7,612.7 H921.4 Q924.4,612.7 924.4,615.7 V624.2 M924.4,631.5 V638.9 Q924.4,641.9 921.4,641.9 H912.7"/><path d="M943.1,624.2 V619.4 A3.65,3.65 0 0 1 950.4,619.4 V624.2 M943.1,631.5 V636.2 A3.65,3.65 0 0 0 950.4,636.2 V631.5"/><path d="M1008.7,660.6 V655.8 A3.65,3.65 0 0 1 1016,655.8 V660.6 M1008.7,667.9 V672.6 A3.65,3.65 0 0 0 1016,672.6 V667.9"/><path d="M1046.6,650.2 H1036.8 Q1033.8,650.2 1033.8,653.2 V660.6 M1033.8,667.9 V676.4 Q1033.8,679.4 1036.8,679.4 H1046.6"/><path d="M1046.6,624.2 H1041 A3.1,3.1 0 0 0 1041,630.4 H1046.6 M1046.6,697.9 H1040 A3.1,3.1 0 0 0 1040,704.1 H1046.6"/><path d="M1008.2,735 V728.3 A3.6,3.6 0 0 1 1015.4,728.3 V735"/></g>
<rect x="992.7" y="559.8" width="10.2" height="10.0" rx="0.7" fill="none" stroke="#3a3a3a" stroke-width="1.04"/><path d="M996.9,561.1L994.5,569.0M997.3,561.1L1000.6,569.0" stroke="#333" stroke-width="1.75" fill="none"/><text x="1005.6" y="569" font-size="10.6" font-weight="bold" fill="#6a6a6a" textLength="22.7" lengthAdjust="spacingAndGlyphs">RZ34</text><circle cx="1034.9" cy="564.8" r="4.1" fill="none" stroke="#3a3a3a" stroke-width="1.25"/><text x="1034.9" y="567.3" font-size="6.8" font-weight="bold" fill="#3a3a3a" text-anchor="middle">I</text>
<circle cx="945.7" cy="589.9" r="17.9" fill="none" stroke="#2b2b2b" stroke-width="3.3"/><path d="M943.3,585.3L940.6,574.2" stroke="#2e2e2e" stroke-width="1.35" fill="none"/><path d="M946.0,584.7L944.0,573.5" stroke="#2e2e2e" stroke-width="1.35" fill="none"/><path d="M944.9,578.3L941.7,579.0" stroke="#444" stroke-width="0.8" fill="none"/><path d="M944.4,576.1L941.3,576.7" stroke="#444" stroke-width="0.8" fill="none"/><path d="M949.3,586.2L959.1,580.2" stroke="#2e2e2e" stroke-width="1.35" fill="none"/><path d="M950.7,588.6L960.8,583.2" stroke="#2e2e2e" stroke-width="1.35" fill="none"/><path d="M956.5,585.5L954.9,582.8" stroke="#444" stroke-width="0.8" fill="none"/><path d="M958.5,584.4L956.9,581.6" stroke="#444" stroke-width="0.8" fill="none"/><path d="M950.4,592.2L959.0,599.6" stroke="#2e2e2e" stroke-width="1.35" fill="none"/><path d="M948.5,594.3L956.8,602.1" stroke="#2e2e2e" stroke-width="1.35" fill="none"/><path d="M953.2,598.8L955.3,596.4" stroke="#444" stroke-width="0.8" fill="none"/><path d="M954.9,600.3L957.0,597.9" stroke="#444" stroke-width="0.8" fill="none"/><path d="M944.9,595.0L940.6,605.6" stroke="#2e2e2e" stroke-width="1.35" fill="none"/><path d="M942.4,593.9L937.5,604.2" stroke="#2e2e2e" stroke-width="1.35" fill="none"/><path d="M939.6,599.8L942.5,601.1" stroke="#444" stroke-width="0.8" fill="none"/><path d="M938.6,601.9L941.5,603.2" stroke="#444" stroke-width="0.8" fill="none"/><path d="M940.6,590.8L929.2,589.9" stroke="#2e2e2e" stroke-width="1.35" fill="none"/><path d="M940.9,588.0L929.6,586.5" stroke="#2e2e2e" stroke-width="1.35" fill="none"/><path d="M934.4,587.1L934.1,590.3" stroke="#444" stroke-width="0.8" fill="none"/><path d="M932.1,586.9L931.8,590.0" stroke="#444" stroke-width="0.8" fill="none"/><circle cx="945.7" cy="589.9" r="4.5" fill="none" stroke="#2b2b2b" stroke-width="2.2"/><circle cx="945.7" cy="589.9" r="2" fill="none" stroke="#444" stroke-width="0.7"/>
<circle cx="1012.8" cy="627.5" r="17.9" fill="none" stroke="#2b2b2b" stroke-width="3.3"/><path d="M1012.5,622.3L1014.5,611.1" stroke="#2e2e2e" stroke-width="1.35" fill="none"/><path d="M1015.2,622.9L1017.9,611.8" stroke="#2e2e2e" stroke-width="1.35" fill="none"/><path d="M1016.8,616.6L1013.6,615.9" stroke="#444" stroke-width="0.8" fill="none"/><path d="M1017.2,614.3L1014.1,613.7" stroke="#444" stroke-width="0.8" fill="none"/><path d="M1017.6,625.6L1028.9,624.1" stroke="#2e2e2e" stroke-width="1.35" fill="none"/><path d="M1017.9,628.4L1029.3,627.5" stroke="#2e2e2e" stroke-width="1.35" fill="none"/><path d="M1024.4,627.9L1024.1,624.7" stroke="#444" stroke-width="0.8" fill="none"/><path d="M1026.7,627.6L1026.4,624.5" stroke="#444" stroke-width="0.8" fill="none"/><path d="M1016.1,631.5L1021.0,641.8" stroke="#2e2e2e" stroke-width="1.35" fill="none"/><path d="M1013.6,632.6L1017.9,643.2" stroke="#2e2e2e" stroke-width="1.35" fill="none"/><path d="M1016.0,638.7L1018.9,637.4" stroke="#444" stroke-width="0.8" fill="none"/><path d="M1017.0,640.8L1019.9,639.5" stroke="#444" stroke-width="0.8" fill="none"/><path d="M1010.0,631.9L1001.7,639.7" stroke="#2e2e2e" stroke-width="1.35" fill="none"/><path d="M1008.1,629.8L999.5,637.2" stroke="#2e2e2e" stroke-width="1.35" fill="none"/><path d="M1003.2,634.0L1005.3,636.4" stroke="#444" stroke-width="0.8" fill="none"/><path d="M1001.5,635.5L1003.6,637.9" stroke="#444" stroke-width="0.8" fill="none"/><path d="M1007.8,626.2L997.7,620.8" stroke="#2e2e2e" stroke-width="1.35" fill="none"/><path d="M1009.2,623.8L999.4,617.8" stroke="#2e2e2e" stroke-width="1.35" fill="none"/><path d="M1003.6,620.4L1002.0,623.1" stroke="#444" stroke-width="0.8" fill="none"/><path d="M1001.6,619.2L1000.0,622.0" stroke="#444" stroke-width="0.8" fill="none"/><circle cx="1012.8" cy="627.5" r="4.5" fill="none" stroke="#2b2b2b" stroke-width="2.2"/><circle cx="1012.8" cy="627.5" r="2" fill="none" stroke="#444" stroke-width="0.7"/>
<circle cx="945.7" cy="664.8" r="17.9" fill="none" stroke="#2b2b2b" stroke-width="3.3"/><path d="M943.3,660.2L940.6,649.1" stroke="#2e2e2e" stroke-width="1.35" fill="none"/><path d="M946.0,659.6L944.0,648.4" stroke="#2e2e2e" stroke-width="1.35" fill="none"/><path d="M944.9,653.2L941.7,653.9" stroke="#444" stroke-width="0.8" fill="none"/><path d="M944.4,651.0L941.3,651.6" stroke="#444" stroke-width="0.8" fill="none"/><path d="M949.3,661.1L959.1,655.1" stroke="#2e2e2e" stroke-width="1.35" fill="none"/><path d="M950.7,663.5L960.8,658.1" stroke="#2e2e2e" stroke-width="1.35" fill="none"/><path d="M956.5,660.4L954.9,657.7" stroke="#444" stroke-width="0.8" fill="none"/><path d="M958.5,659.3L956.9,656.5" stroke="#444" stroke-width="0.8" fill="none"/><path d="M950.4,667.1L959.0,674.5" stroke="#2e2e2e" stroke-width="1.35" fill="none"/><path d="M948.5,669.2L956.8,677.0" stroke="#2e2e2e" stroke-width="1.35" fill="none"/><path d="M953.2,673.7L955.3,671.3" stroke="#444" stroke-width="0.8" fill="none"/><path d="M954.9,675.2L957.0,672.8" stroke="#444" stroke-width="0.8" fill="none"/><path d="M944.9,669.9L940.6,680.5" stroke="#2e2e2e" stroke-width="1.35" fill="none"/><path d="M942.4,668.8L937.5,679.1" stroke="#2e2e2e" stroke-width="1.35" fill="none"/><path d="M939.6,674.7L942.5,676.0" stroke="#444" stroke-width="0.8" fill="none"/><path d="M938.6,676.8L941.5,678.1" stroke="#444" stroke-width="0.8" fill="none"/><path d="M940.6,665.7L929.2,664.8" stroke="#2e2e2e" stroke-width="1.35" fill="none"/><path d="M940.9,662.9L929.6,661.4" stroke="#2e2e2e" stroke-width="1.35" fill="none"/><path d="M934.4,662.0L934.1,665.2" stroke="#444" stroke-width="0.8" fill="none"/><path d="M932.1,661.8L931.8,664.9" stroke="#444" stroke-width="0.8" fill="none"/><circle cx="945.7" cy="664.8" r="4.5" fill="none" stroke="#2b2b2b" stroke-width="2.2"/><circle cx="945.7" cy="664.8" r="2" fill="none" stroke="#444" stroke-width="0.7"/>
<circle cx="1012.8" cy="701.3" r="17.9" fill="none" stroke="#2b2b2b" stroke-width="3.3"/><path d="M1012.5,696.1L1014.5,684.9" stroke="#2e2e2e" stroke-width="1.35" fill="none"/><path d="M1015.2,696.7L1017.9,685.6" stroke="#2e2e2e" stroke-width="1.35" fill="none"/><path d="M1016.8,690.4L1013.6,689.7" stroke="#444" stroke-width="0.8" fill="none"/><path d="M1017.2,688.1L1014.1,687.5" stroke="#444" stroke-width="0.8" fill="none"/><path d="M1017.6,699.4L1028.9,697.9" stroke="#2e2e2e" stroke-width="1.35" fill="none"/><path d="M1017.9,702.2L1029.3,701.3" stroke="#2e2e2e" stroke-width="1.35" fill="none"/><path d="M1024.4,701.7L1024.1,698.5" stroke="#444" stroke-width="0.8" fill="none"/><path d="M1026.7,701.4L1026.4,698.3" stroke="#444" stroke-width="0.8" fill="none"/><path d="M1016.1,705.3L1021.0,715.6" stroke="#2e2e2e" stroke-width="1.35" fill="none"/><path d="M1013.6,706.4L1017.9,717.0" stroke="#2e2e2e" stroke-width="1.35" fill="none"/><path d="M1016.0,712.5L1018.9,711.2" stroke="#444" stroke-width="0.8" fill="none"/><path d="M1017.0,714.6L1019.9,713.3" stroke="#444" stroke-width="0.8" fill="none"/><path d="M1010.0,705.7L1001.7,713.5" stroke="#2e2e2e" stroke-width="1.35" fill="none"/><path d="M1008.1,703.6L999.5,711.0" stroke="#2e2e2e" stroke-width="1.35" fill="none"/><path d="M1003.2,707.8L1005.3,710.2" stroke="#444" stroke-width="0.8" fill="none"/><path d="M1001.5,709.3L1003.6,711.7" stroke="#444" stroke-width="0.8" fill="none"/><path d="M1007.8,700.0L997.7,694.6" stroke="#2e2e2e" stroke-width="1.35" fill="none"/><path d="M1009.2,697.6L999.4,691.6" stroke="#2e2e2e" stroke-width="1.35" fill="none"/><path d="M1003.6,694.2L1002.0,696.9" stroke="#444" stroke-width="0.8" fill="none"/><path d="M1001.6,693.0L1000.0,695.8" stroke="#444" stroke-width="0.8" fill="none"/><circle cx="1012.8" cy="701.3" r="4.5" fill="none" stroke="#2b2b2b" stroke-width="2.2"/><circle cx="1012.8" cy="701.3" r="2" fill="none" stroke="#444" stroke-width="0.7"/>
<circle cx="974" cy="588.8" r="5.3" fill="#a9a9a9"/>
<circle cx="1012.5" cy="598.1" r="5.3" fill="#a9a9a9"/>
<circle cx="946.7" cy="692.9" r="5.3" fill="#a9a9a9"/>
<circle cx="983.3" cy="703.3" r="5.3" fill="#a9a9a9"/>
<circle cx="976" cy="609.5" r="8.6" fill="none" stroke="#333" stroke-width="1"/><text x="971.3" y="614.2" font-size="12.5" fill="#333" textLength="9.5" lengthAdjust="spacingAndGlyphs">18</text>
<circle cx="1030.6" cy="596.7" r="8.6" fill="none" stroke="#333" stroke-width="1"/><text x="1025.9" y="601.4" font-size="12.5" fill="#333" textLength="9.5" lengthAdjust="spacingAndGlyphs">17</text>
<circle cx="984.2" cy="683.5" r="8.6" fill="none" stroke="#333" stroke-width="1"/><text x="979.5" y="688.2" font-size="12.5" fill="#333" textLength="9.5" lengthAdjust="spacingAndGlyphs">17</text>
<circle cx="927.9" cy="696" r="8.6" fill="none" stroke="#333" stroke-width="1"/><text x="923.2" y="700.7" font-size="12.5" fill="#333" textLength="9.5" lengthAdjust="spacingAndGlyphs">18</text>
<circle cx="906.5" cy="782.9" r="5.6" fill="#a9a9a9"/>
<text x="921" y="791" font-size="19" fill="#262626" textLength="161.6" lengthAdjust="spacingAndGlyphs">不要(切り取ります)</text>
<text x="927.5" y="769.3" font-size="8" fill="#333" textLength="28.2" lengthAdjust="spacingAndGlyphs">ふよう</text>
<text x="980.5" y="769.3" font-size="8" fill="#333" text-anchor="middle">き</text>
<text x="1013.8" y="769.3" font-size="8" fill="#333" text-anchor="middle">と</text>
<text x="921.3" y="814.8" font-size="16" fill="#262626" textLength="55.5" lengthAdjust="spacingAndGlyphs">Cutt off.</text>
<text x="913.7" y="928.5" font-size="19.7" fill="#262626" textLength="56.5" lengthAdjust="spacingAndGlyphs">H部品</text>
<path d="M965.2,950.3V941.2284210526316Q965.2,939 967.4284210526316,939H1014.0715789473684Q1016.3,939 1016.3,941.2284210526316V950.3" fill="#f3f3f5" stroke="#5a5a5a" stroke-width="1.1"/><rect x="969.0" y="940.4" width="9.4" height="9.2" rx="0.6" fill="none" stroke="#3a3a3a" stroke-width="0.96"/><path d="M973.0,941.5L970.7,948.8M973.3,941.5L976.4,948.8" stroke="#333" stroke-width="1.61" fill="none"/><text x="980.9" y="948.8" font-size="9.8" font-weight="bold" fill="#6a6a6a" textLength="20.9" lengthAdjust="spacingAndGlyphs">RZ34</text><circle cx="1007.9" cy="944.9" r="3.8" fill="none" stroke="#3a3a3a" stroke-width="1.15"/><text x="1007.9" y="947.3" font-size="6.3" font-weight="bold" fill="#3a3a3a" text-anchor="middle">H</text>
<g fill="none" stroke="#5a5a5a" stroke-width="1"><path d="M930.7,950.3H1052.4A27,27 0 0 1 1079.4,977.3V1131.3A27,27 0 0 1 1052.4,1158.3H930.7A27,27 0 0 1 903.7,1131.3V977.3A27,27 0 0 1 930.7,950.3Z"/><path d="M929.8,959.7H1053.2A16.5,16.5 0 0 1 1069.7,976.2V1132.4A16.5,16.5 0 0 1 1053.2,1148.9H929.8A16.5,16.5 0 0 1 913.3,1132.4V976.2A16.5,16.5 0 0 1 929.8,959.7Z"/><path d="M913.4,1050.1 H1069.7 M913.4,1057.7 H1069.7"/><path d="M951,959.7 V970.8 A4.1,4.1 0 0 0 959.2,970.8 V959.7 M1022.7,959.7 V970.8 A4.1,4.1 0 0 0 1030.9,970.8 V959.7"/><path d="M951,1050.1 V1038.6 A3.8,3.8 0 0 1 958.6,1038.6 V1050.1 M951,1057.7 V1069.1 A3.8,3.8 0 0 0 958.6,1069.1 V1057.7"/><path d="M1022.7,1050.1 V1038.6 A3.8,3.8 0 0 1 1030.3,1038.6 V1050.1 M1022.7,1057.7 V1069.1 A3.8,3.8 0 0 0 1030.3,1069.1 V1057.7"/><path d="M913.4,1041.2 H921.8 V1050.1"/><path d="M951,1039.9 H943.8 Q940.8,1039.9 940.8,1042.9 V1050.1 M940.8,1057.7 V1066.1 Q940.8,1069.1 943.8,1069.1 H951"/><path d="M1030.3,1039.9 H1038.7 Q1041.7,1039.9 1041.7,1042.9 V1050.1 M1041.7,1057.7 V1066.1 Q1041.7,1069.1 1038.7,1069.1 H1030.3"/><path d="M951,1149 V1139 A3.8,3.8 0 0 1 958.6,1139 V1149 M1022.7,1149 V1139 A3.8,3.8 0 0 1 1030.3,1139 V1149"/></g>
<circle cx="954.8" cy="1004.8" r="25.3" fill="none" stroke="#3a3a3a" stroke-width="3" stroke-dasharray="1.6 0.5"/><circle cx="954.8" cy="1004.8" r="26.7" fill="none" stroke="#333" stroke-width="0.8"/><circle cx="954.8" cy="1004.8" r="22.3" fill="none" stroke="#444" stroke-width="0.9"/><circle cx="954.8" cy="1004.8" r="20.6" fill="none" stroke="#444" stroke-width="0.9"/><circle cx="954.8" cy="1004.8" r="1.9" fill="none" stroke="#444" stroke-width="0.8"/>
<circle cx="1026.8" cy="1004.8" r="25.3" fill="none" stroke="#3a3a3a" stroke-width="3" stroke-dasharray="1.6 0.5"/><circle cx="1026.8" cy="1004.8" r="26.7" fill="none" stroke="#333" stroke-width="0.8"/><circle cx="1026.8" cy="1004.8" r="22.3" fill="none" stroke="#444" stroke-width="0.9"/><circle cx="1026.8" cy="1004.8" r="20.6" fill="none" stroke="#444" stroke-width="0.9"/><circle cx="1026.8" cy="1004.8" r="1.9" fill="none" stroke="#444" stroke-width="0.8"/>
<circle cx="954.8" cy="1104" r="25.3" fill="none" stroke="#3a3a3a" stroke-width="3" stroke-dasharray="1.6 0.5"/><circle cx="954.8" cy="1104" r="26.7" fill="none" stroke="#333" stroke-width="0.8"/><circle cx="954.8" cy="1104" r="22.3" fill="none" stroke="#444" stroke-width="0.9"/><circle cx="954.8" cy="1104" r="20.6" fill="none" stroke="#444" stroke-width="0.9"/><circle cx="954.8" cy="1104" r="1.9" fill="none" stroke="#444" stroke-width="0.8"/>
<circle cx="1026.8" cy="1104" r="25.3" fill="none" stroke="#3a3a3a" stroke-width="3" stroke-dasharray="1.6 0.5"/><circle cx="1026.8" cy="1104" r="26.7" fill="none" stroke="#333" stroke-width="0.8"/><circle cx="1026.8" cy="1104" r="22.3" fill="none" stroke="#444" stroke-width="0.9"/><circle cx="1026.8" cy="1104" r="20.6" fill="none" stroke="#444" stroke-width="0.9"/><circle cx="1026.8" cy="1104" r="1.9" fill="none" stroke="#444" stroke-width="0.8"/>
<circle cx="991.7" cy="1028.5" r="8.3" fill="none" stroke="#333" stroke-width="1"/><text x="987.2" y="1033" font-size="12" fill="#333" textLength="9.1" lengthAdjust="spacingAndGlyphs">16</text>
<circle cx="991.7" cy="1127.6" r="8.3" fill="none" stroke="#333" stroke-width="1"/><text x="987.2" y="1132.1" font-size="12" fill="#333" textLength="9.1" lengthAdjust="spacingAndGlyphs">16</text>
<text x="359.5" y="1000" font-size="20" fill="#262626" textLength="60.7" lengthAdjust="spacingAndGlyphs">シール</text>
<rect x="354.1" y="1015.3" width="269.5" height="153.7" fill="#cdced0"/>
<g transform="translate(345,970) scale(0.25913)" stroke-width="3.86" stroke="#444" fill="none" ><path d="M60,225 C62,205 100,200 230,203 C330,207 395,220 407,235 C400,247 300,247 200,247 C100,247 62,245 60,225 Z" fill="#313131" stroke="none"/><path d="M80,258 C200,275 280,275 380,255 L400,330 C405,380 395,420 385,440 C300,470 150,470 65,440 C55,400 60,330 80,258 Z M95,285 C200,295 290,295 368,282 C382,325 384,375 378,405 C300,428 150,428 82,405 C72,375 78,325 95,285 Z" fill="#313131" stroke="none" fill-rule="evenodd"/><path d="M185,290 H265 L258,318 Q225,330 192,318 Z" fill="#313131" stroke="none"/><ellipse cx="150" cy="370" rx="16" ry="11" fill="#e8e8ea" stroke="none" stroke-width="0"/><ellipse cx="215" cy="370" rx="17" ry="13" fill="#cdced0" stroke="#555" stroke-width="5"/><ellipse cx="270" cy="370" rx="17" ry="13" fill="#cdced0" stroke="#555" stroke-width="5"/><ellipse cx="325" cy="370" rx="19" ry="14" fill="#f2f2f2" stroke="#888" stroke-width="3"/><path d="M200,370 H230 M255,370 H285" stroke="#555" stroke-width="4"/><path d="M408,217 C410,200 500,197 600,197 L750,199 C745,220 650,235 520,239 C450,241 410,235 408,217 Z" fill="#313131" stroke="none"/><path d="M440,260 H672 Q686,260 686,274 V400 Q686,450 640,453 H470 Q426,450 426,400 V274 Q426,260 440,260 Z M470,287 H642 Q660,287 660,305 V385 Q660,425 625,425 H485 Q452,425 452,385 V305 Q452,287 470,287 Z" fill="#313131" stroke="none" fill-rule="evenodd"/><rect x="470" y="315" width="60" height="20" rx="10" fill="#d8d8da" stroke="none" stroke-width="0"/><rect x="565" y="318" width="72" height="24" rx="12" fill="#a5a5a7" stroke="#555" stroke-width="3"/><rect x="475" y="373" width="72" height="24" rx="12" fill="#a5a5a7" stroke="#666" stroke-width="3"/><rect x="565" y="373" width="75" height="24" rx="12" fill="#f4f4f4" stroke="#444" stroke-width="4"/><path d="M715,250 C740,215 800,200 870,200 C950,200 1010,215 1030,250 V485 H1000 V330 C990,300 950,290 870,290 C800,290 760,300 750,330 V488 H715 Z" fill="#313131" stroke="none"/><path d="M850,305 L862,420 L795,420 C800,380 820,330 850,305 Z" fill="#313131" stroke="none"/><path d="M893,305 L883,420 L950,420 C945,380 925,330 893,305 Z" fill="#313131" stroke="none"/><path d="M838,350 L845,380 L825,378 Z M905,350 L898,380 L918,378 Z" fill="#bbb" stroke="none"/><path d="M790,425 L806,425 C802,500 792,560 779,616 L760,612 C775,550 785,490 790,425 Z" fill="#313131" stroke="none"/><path d="M955,425 L939,425 C943,500 953,560 966,616 L987,612 C970,550 960,490 955,425 Z" fill="#313131" stroke="none"/><path d="M828,445 C826,510 818,560 810,600" stroke="#313131" stroke-width="9"/><path d="M917,445 C919,510 927,560 938,602" stroke="#313131" stroke-width="9"/><rect x="85" y="480" width="120" height="38" rx="12" fill="#313131" stroke="none" stroke-width="0"/><rect x="100" y="490" width="90" height="12" rx="5" fill="#a5a5a7" stroke="none" stroke-width="0"/><rect x="255" y="480" width="120" height="38" rx="12" fill="#313131" stroke="none" stroke-width="0"/><rect x="270" y="490" width="90" height="12" rx="5" fill="#a5a5a7" stroke="none" stroke-width="0"/><rect x="425" y="478" width="260" height="38" rx="6" fill="#313131" stroke="none" stroke-width="0"/><path d="M435,490 H675" stroke="#555" stroke-width="3"/><path d="M100,552 C120,538 170,538 195,548 C175,564 120,564 100,552 Z" fill="#bdbdbf" stroke="#444" stroke-width="4"/><path d="M262,552 C282,538 325,538 350,548 C330,564 282,564 262,552 Z" fill="#bdbdbf" stroke="#444" stroke-width="4"/><rect x="432" y="535" width="60" height="20" rx="10" fill="#313131" stroke="none" stroke-width="0"/><rect x="558" y="535" width="60" height="20" rx="10" fill="#313131" stroke="none" stroke-width="0"/><path d="M100,580 C105,600 150,612 195,600 C170,600 130,592 100,580 Z" fill="#e0e0e0" stroke="#444" stroke-width="5"/><path d="M350,580 C345,600 300,612 258,600 C283,600 320,592 350,580 Z" fill="#e0e0e0" stroke="#444" stroke-width="5"/><rect x="436" y="578" width="56" height="22" rx="11" fill="#e6e6e6" stroke="#313131" stroke-width="5"/><rect x="560" y="578" width="56" height="22" rx="11" fill="#e6e6e6" stroke="#313131" stroke-width="5"/><ellipse cx="107" cy="650" rx="19" ry="17" fill="#ddd" stroke="#313131" stroke-width="6"/><path d="M92,650 H122" stroke="#313131" stroke-width="4"/><ellipse cx="190" cy="648" rx="8" ry="8" fill="#555" stroke="none" stroke-width="0"/><ellipse cx="222" cy="648" rx="8" ry="8" fill="#555" stroke="none" stroke-width="0"/><rect x="285" y="625" width="80" height="45" rx="10" fill="#313131" stroke="none" stroke-width="0"/><path d="M305,642 H345 M305,652 H345" stroke="#999" stroke-width="3" stroke-dasharray="5 3"/><rect x="420" y="630" width="80" height="38" rx="12" fill="#8a8a8c" stroke="#333" stroke-width="5"/><rect x="440" y="640" width="45" height="18" rx="8" fill="#ddd" stroke="#333" stroke-width="3"/><ellipse cx="565" cy="648" rx="13" ry="13" fill="#ddd" stroke="#313131" stroke-width="7"/><ellipse cx="637" cy="648" rx="13" ry="13" fill="#ddd" stroke="#313131" stroke-width="7"/><ellipse cx="715" cy="648" rx="13" ry="13" fill="#ddd" stroke="#313131" stroke-width="7"/><rect x="778" y="634" width="56" height="28" rx="14" fill="#8a8a8c" stroke="#555" stroke-width="4"/><ellipse cx="793" cy="648" rx="7" ry="7" fill="#bbb" stroke="#666" stroke-width="3"/><ellipse cx="806" cy="648" rx="7" ry="7" fill="#bbb" stroke="#666" stroke-width="3"/><ellipse cx="819" cy="648" rx="7" ry="7" fill="#bbb" stroke="#666" stroke-width="3"/><ellipse cx="890" cy="648" rx="11" ry="11" fill="#444" stroke="none" stroke-width="0"/><rect x="88" y="688" width="90" height="47" rx="6" fill="#b5b5b7" stroke="#313131" stroke-width="6"/><path d="M100,700 H166 M100,711 H166 M100,722 H166 M133,695 V730" stroke="#666" stroke-width="3"/><rect x="228" y="688" width="90" height="47" rx="6" fill="#b5b5b7" stroke="#313131" stroke-width="6"/><path d="M240,700 H306 M240,711 H306 M240,722 H306 M273,695 V730" stroke="#666" stroke-width="3"/><rect x="370" y="688" width="88" height="47" rx="5" fill="#313131" stroke="none" stroke-width="0"/><rect x="462" y="688" width="86" height="47" rx="5" fill="#313131" stroke="none" stroke-width="0"/><rect x="385" y="703" width="58" height="16" rx="6" fill="#555" stroke="none" stroke-width="0"/><rect x="476" y="703" width="58" height="16" rx="6" fill="#555" stroke="none" stroke-width="0"/><rect x="593" y="690" width="235" height="40" rx="0" fill="#dcdcde" stroke="none" stroke-width="0"/><path d="M593,697 H828 M593,722 H828" stroke="#999" stroke-width="5"/><ellipse cx="895" cy="692" rx="12" ry="12" fill="#aaa" stroke="#313131" stroke-width="6"/><ellipse cx="927" cy="692" rx="12" ry="12" fill="#aaa" stroke="#313131" stroke-width="6"/><ellipse cx="960" cy="692" rx="12" ry="12" fill="#aaa" stroke="#313131" stroke-width="6"/><ellipse cx="992" cy="692" rx="12" ry="12" fill="#aaa" stroke="#313131" stroke-width="6"/><path d="M915,728 H1048 M872,742 H1048" stroke="#8a8a8a" stroke-width="5" stroke-dasharray="6 3"/><rect x="60" y="258" width="13" height="9" fill="#aaa" stroke="none"/><rect x="62" y="490" width="13" height="9" fill="#aaa" stroke="none"/><rect x="232" y="490" width="13" height="9" fill="#aaa" stroke="none"/><rect x="400" y="490" width="13" height="9" fill="#aaa" stroke="none"/><rect x="62" y="545" width="13" height="9" fill="#aaa" stroke="none"/><rect x="232" y="545" width="13" height="9" fill="#aaa" stroke="none"/><rect x="400" y="545" width="13" height="9" fill="#aaa" stroke="none"/><rect x="62" y="590" width="13" height="9" fill="#aaa" stroke="none"/><rect x="232" y="590" width="13" height="9" fill="#aaa" stroke="none"/><rect x="400" y="590" width="13" height="9" fill="#aaa" stroke="none"/><rect x="520" y="590" width="13" height="9" fill="#aaa" stroke="none"/><rect x="62" y="645" width="13" height="9" fill="#aaa" stroke="none"/><rect x="150" y="645" width="13" height="9" fill="#aaa" stroke="none"/><rect x="255" y="645" width="13" height="9" fill="#aaa" stroke="none"/><rect x="400" y="645" width="13" height="9" fill="#aaa" stroke="none"/><rect x="520" y="645" width="13" height="9" fill="#aaa" stroke="none"/><rect x="600" y="645" width="13" height="9" fill="#aaa" stroke="none"/><rect x="675" y="645" width="13" height="9" fill="#aaa" stroke="none"/><rect x="750" y="645" width="13" height="9" fill="#aaa" stroke="none"/><rect x="850" y="645" width="13" height="9" fill="#aaa" stroke="none"/><rect x="62" y="708" width="13" height="9" fill="#aaa" stroke="none"/><rect x="200" y="708" width="13" height="9" fill="#aaa" stroke="none"/><rect x="345" y="708" width="13" height="9" fill="#aaa" stroke="none"/><rect x="565" y="708" width="13" height="9" fill="#aaa" stroke="none"/><rect x="850" y="690" width="13" height="9" fill="#aaa" stroke="none"/><rect x="115" y="365" width="13" height="9" fill="#aaa" stroke="none"/><rect x="550" y="355" width="13" height="9" fill="#aaa" stroke="none"/><rect x="745" y="525" width="13" height="9" fill="#aaa" stroke="none"/><rect x="850" y="525" width="13" height="9" fill="#aaa" stroke="none"/><rect x="900" y="525" width="13" height="9" fill="#aaa" stroke="none"/><rect x="1000" y="525" width="13" height="9" fill="#aaa" stroke="none"/><rect x="1020" y="200" width="13" height="9" fill="#aaa" stroke="none"/><rect x="60" y="200" width="13" height="9" fill="#aaa" stroke="none"/><rect x="385" y="200" width="13" height="9" fill="#aaa" stroke="none"/></g>
<rect x="70.2" y="1092.3" width="183.7" height="77.7" fill="none" stroke="#333" stroke-width="1.1"/>
<text x="83.3" y="1125.5" font-size="18" fill="#262626" textLength="34.7" lengthAdjust="spacingAndGlyphs">材質</text>
<text x="128.8" y="1124.3" font-size="19" fill="#262626" text-anchor="middle">:</text>
<text x="140.3" y="1126.6" font-size="18" fill="#262626" textLength="36.8" lengthAdjust="spacingAndGlyphs">ABS</text>
<text x="83.3" y="1107.2" font-size="8" fill="#333" textLength="35.4" lengthAdjust="spacingAndGlyphs">ざいしつ</text>
<text x="83.2" y="1158.5" font-size="18" fill="#262626" textLength="112" lengthAdjust="spacingAndGlyphs">透明部品のみ</text>
<text x="206.7" y="1157.3" font-size="19" fill="#262626" text-anchor="middle">:</text>
<text x="217.9" y="1159.6" font-size="18" fill="#262626" textLength="22.9" lengthAdjust="spacingAndGlyphs">PS</text>
<text x="83.3" y="1139" font-size="8" fill="#333" textLength="34.7" lengthAdjust="spacingAndGlyphs">とうめい</text>
<text x="128.7" y="1139" font-size="8" fill="#333" text-anchor="middle">ぶ</text>
<text x="142.1" y="1139" font-size="8" fill="#333" textLength="16.1" lengthAdjust="spacingAndGlyphs">ひん</text>
<rect x="958.9" y="1173.2" width="15" height="14.7" rx="1.2" fill="#6a6a6a"/>
<path d="M965.2,1175.2 C962.2,1178.5 961.3,1181.5 962.6,1184.2 Q963.8,1186.3 965.3,1186.3 Q964,1183 965.8,1180 Q966.3,1182.5 967.6,1183.6 Q967.3,1180 969.6,1177.2 C971.6,1180.3 971.8,1183 970.4,1185 Q969.4,1186.3 968,1186.3 L965.3,1186.3 Z" fill="#eee"/>
<text x="981.1" y="1186.9" font-size="15.8" font-weight="bold" fill="#6a6a6a" textLength="126.1" lengthAdjust="spacingAndGlyphs">HOBBY SEARCH</text>
</g>
</svg>
</body></html>
